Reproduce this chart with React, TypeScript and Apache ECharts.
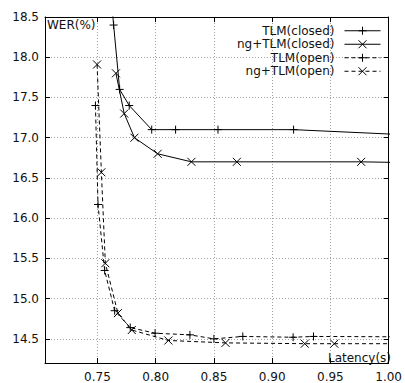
import React, { useEffect, useRef } from 'react';
import * as echarts from 'echarts';

const xTicks = [0.75, 0.8, 0.85, 0.9, 0.95, 1.0];
const yTicks = [14.5, 15.0, 15.5, 16.0, 16.5, 17.0, 17.5, 18.0, 18.5];

const seriesNames = ['TLM(closed)', 'ng+TLM(closed)', 'TLM(open)', 'ng+TLM(open)'];

const tlmClosedX = [0.7627, 0.7639, 0.7691, 0.7773, 0.7966, 0.8171, 0.8535, 0.9184, 1.1];
const tlmClosedY = [18.6, 18.4, 17.6, 17.4, 17.1, 17.1, 17.1, 17.1, 16.98];

const ngClosedX = [0.7659, 0.773, 0.7818, 0.8017, 0.8307, 0.8697, 0.9764, 1.1];
const ngClosedY = [17.8, 17.3, 17.0, 16.8, 16.7, 16.7, 16.7, 16.67];

const tlmOpenX = [0.7483, 0.7505, 0.7562, 0.7648, 0.7782, 0.7995, 0.8294, 0.85, 0.8748, 0.918, 0.9355, 1.1];
const tlmOpenY = [17.4, 16.17, 15.35, 14.85, 14.64, 14.57, 14.55, 14.5, 14.53, 14.52, 14.53, 14.52];

const ngOpenX = [0.7497, 0.7534, 0.7568, 0.7676, 0.7795, 0.8109, 0.86, 0.928, 0.9533, 1.1];
const ngOpenY = [17.91, 16.57, 15.44, 14.82, 14.61, 14.48, 14.45, 14.44, 14.44, 14.44];

const PLUS = 'path://M0,5L10,5M5,0L5,10';
const CROSS = 'path://M0,0L10,10M0,10L10,0';
const FONT = 'DejaVu Sans';

function zip(xs: number[], ys: number[]) {
  return xs.map((x, i) => [x, ys[i]]);
}

export default function App() {
  const ref = useRef<HTMLDivElement>(null);
  useEffect(() => {
    if (!ref.current) return;
    const chart = echarts.init(ref.current, undefined, { renderer: 'svg' });
    const axisLine = { show: true, lineStyle: { color: '#000', width: 1 } };
    const tickStyle = (vals: number[]) => ({
      show: true,
      inside: true,
      length: 5,
      customValues: vals,
      lineStyle: { color: '#000', width: 1 },
    });
    const split = { show: true, lineStyle: { color: '#a0a0a0', width: 1, type: [1, 2] as any } };
    const mk = (name: string, xs: number[], ys: number[], symbol: string, dashed: boolean) => ({
      name,
      type: 'line',
      xAxisIndex: 0,
      yAxisIndex: 0,
      data: zip(xs, ys),
      symbol,
      symbolSize: 8,
      showAllSymbol: true,
      clip: true,
      lineStyle: { color: '#000', width: 1, type: dashed ? [4, 3] : 'solid' },
      itemStyle: { color: '#000', borderColor: '#000', borderWidth: 1 },
      emphasis: { disabled: true },
    });
    chart.setOption({
      animation: false,
      backgroundColor: '#fff',
      textStyle: { fontFamily: FONT },
      grid: { left: 45, top: 17, right: 13, bottom: 19, containLabel: false },
      legend: {
        data: seriesNames,
        orient: 'vertical',
        align: 'right',
        right: 24,
        top: 24,
        padding: 0,
        itemWidth: 36,
        itemHeight: 10,
        itemGap: 0,
        selectedMode: false,
        lineStyle: { width: 1 },
        itemStyle: { borderWidth: 1 },
        textStyle: { fontFamily: FONT, fontSize: 12, lineHeight: 13.5, color: '#111', padding: [0, 5, 0, 0] },
      },
      xAxis: [
        {
          type: 'value',
          position: 'bottom',
          min: 0.705,
          max: 1.0,
          axisLine,
          axisTick: tickStyle(xTicks),
          axisLabel: {
            customValues: xTicks,
            formatter: (v: number) => v.toFixed(2),
            margin: 8,
            fontFamily: FONT,
            fontSize: 12,
            color: '#111',
          },
          splitLine: split,
        },
        {
          type: 'value',
          position: 'top',
          min: 0.705,
          max: 1.0,
          axisLine,
          axisTick: tickStyle(xTicks),
          axisLabel: { show: false },
          splitLine: { show: false },
        },
      ],
      yAxis: [
        {
          type: 'value',
          position: 'left',
          min: 14.2,
          max: 18.5,
          axisLine,
          axisTick: tickStyle(yTicks),
          axisLabel: {
            customValues: yTicks,
            formatter: (v: number) => v.toFixed(1),
            margin: 6,
            fontFamily: FONT,
            fontSize: 12,
            color: '#111',
          },
          splitLine: split,
        },
        {
          type: 'value',
          position: 'right',
          min: 14.2,
          max: 18.5,
          axisLine,
          axisTick: tickStyle(yTicks),
          axisLabel: { show: false },
          splitLine: { show: false },
        },
      ],
      graphic: [
        {
          type: 'text',
          left: 47,
          top: 19,
          style: { text: 'WER(%)', font: `12px "${FONT}"`, fill: '#111' },
        },
        {
          type: 'text',
          right: 14,
          top: 352,
          style: { text: 'Latency(s)', font: `12px "${FONT}"`, fill: '#111' },
        },
      ],
      series: [
        mk(seriesNames[0], tlmClosedX, tlmClosedY, PLUS, false),
        mk(seriesNames[1], ngClosedX, ngClosedY, CROSS, false),
        mk(seriesNames[2], tlmOpenX, tlmOpenY, PLUS, true),
        mk(seriesNames[3], ngOpenX, ngOpenY, CROSS, true),
      ],
    });
    return () => chart.dispose();
  }, []);
  return (
    <div
      ref={ref}
      style={{ position: 'absolute', left: 0, top: 0, width: 405, height: 383, background: '#fff' }}
    />
  );
}
